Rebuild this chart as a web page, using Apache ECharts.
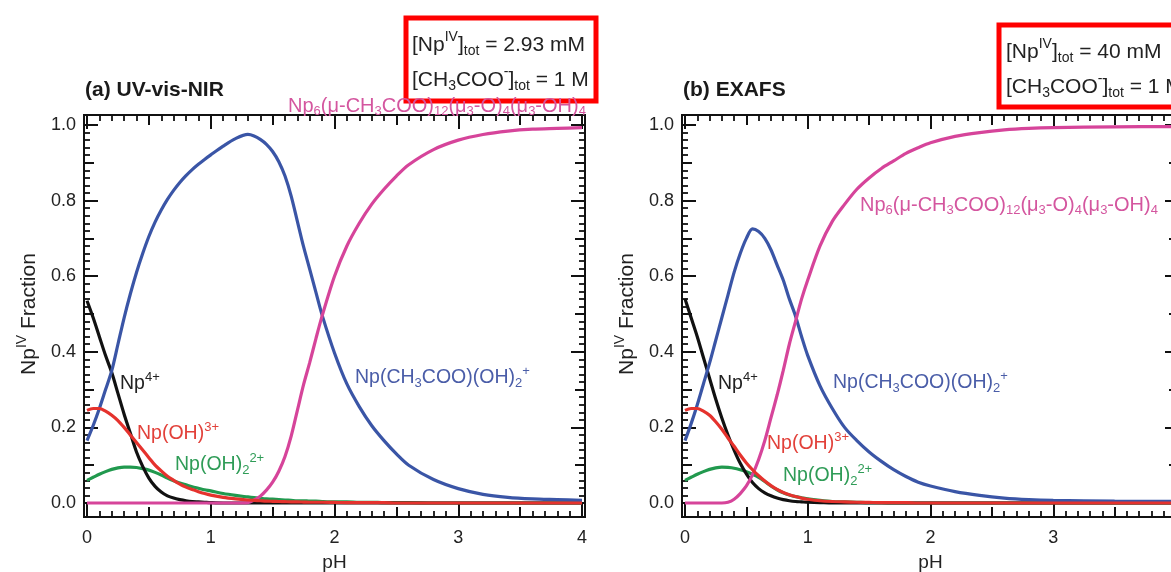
<!DOCTYPE html>
<html><head><meta charset="utf-8">
<script src="https://cdn.jsdelivr.net/npm/echarts@6/dist/echarts.min.js"></script>
<style>html,body{margin:0;padding:0;background:#fff}#c{width:1171px;height:572px}</style>
</head><body><div id="c"></div>
<script>
// ---------- data: panel (a) UV-vis-NIR ----------
const pHA = [0,0.05,0.1,0.15,0.2,0.25,0.3,0.35,0.4,0.45,0.5,0.55,0.6,0.65,0.7,0.75,0.8,0.85,0.9,0.95,1.0,1.1,1.2,1.3,1.35,1.4,1.45,1.5,1.55,1.6,1.65,1.7,1.75,1.8,1.85,1.9,2.0,2.1,2.2,2.3,2.4,2.5,2.6,2.8,3.0,3.2,3.4,3.6,3.8,4.0];
const np4A = [0.535,0.49,0.44,0.39,0.345,0.29,0.235,0.185,0.135,0.097,0.066,0.044,0.029,0.019,0.013,0.009,0.006,0.004,0.003,0.002,0.001,0,0,0,0,0,0,0,0,0,0,0,0,0,0,0,0,0,0,0,0,0,0,0,0,0,0,0,0,0];
const npOHA = [0.245,0.25,0.25,0.243,0.232,0.218,0.2,0.18,0.16,0.14,0.12,0.1,0.085,0.071,0.06,0.05,0.042,0.036,0.03,0.025,0.021,0.015,0.011,0.008,0.007,0.006,0.005,0.0045,0.004,0.0035,0.003,0.003,0.0025,0.002,0.002,0.002,0.0015,0.001,0.001,0.001,0.001,0,0,0,0,0,0,0,0,0];
const npOH2A = [0.06,0.068,0.076,0.083,0.089,0.093,0.095,0.095,0.094,0.091,0.087,0.081,0.074,0.066,0.059,0.053,0.048,0.043,0.039,0.035,0.032,0.025,0.02,0.016,0.014,0.012,0.011,0.01,0.009,0.008,0.007,0.006,0.006,0.005,0.005,0.004,0.003,0.003,0.002,0.002,0.001,0.001,0.001,0,0,0,0,0,0,0];
const npAcA = [0.165,0.205,0.25,0.3,0.35,0.42,0.49,0.553,0.61,0.66,0.705,0.743,0.775,0.803,0.827,0.848,0.866,0.882,0.896,0.909,0.921,0.944,0.964,0.975,0.971,0.962,0.949,0.93,0.903,0.865,0.812,0.745,0.678,0.618,0.557,0.497,0.397,0.315,0.255,0.205,0.165,0.13,0.1,0.062,0.038,0.023,0.015,0.011,0.009,0.007];
const np6A = [0,0,0,0,0,0,0,0,0,0,0,0,0,0,0,0,0,0,0,0,0,0,0,0.001,0.008,0.018,0.034,0.055,0.084,0.123,0.177,0.245,0.313,0.372,0.435,0.495,0.6,0.68,0.74,0.79,0.83,0.865,0.895,0.935,0.96,0.975,0.984,0.989,0.991,0.993];

// ---------- data: panel (b) EXAFS ----------
const pHB = [0,0.05,0.1,0.15,0.2,0.25,0.3,0.35,0.4,0.45,0.5,0.55,0.6,0.65,0.7,0.75,0.8,0.85,0.9,0.95,1.0,1.1,1.2,1.3,1.4,1.5,1.6,1.7,1.8,1.9,2.0,2.2,2.4,2.6,2.8,3.0,3.5,4.0];
const np4B = [0.54,0.49,0.44,0.385,0.33,0.275,0.225,0.18,0.14,0.105,0.077,0.054,0.038,0.027,0.019,0.013,0.009,0.006,0.004,0.003,0.002,0.001,0,0,0,0,0,0,0,0,0,0,0,0,0,0,0,0];
const npOHB = [0.245,0.25,0.25,0.243,0.232,0.215,0.195,0.172,0.15,0.127,0.106,0.088,0.072,0.058,0.046,0.036,0.028,0.022,0.017,0.013,0.01,0.006,0.004,0.003,0.002,0.0015,0.001,0.001,0.001,0,0,0,0,0,0,0,0,0];
const npOH2B = [0.06,0.068,0.076,0.083,0.089,0.093,0.095,0.094,0.092,0.088,0.083,0.076,0.068,0.057,0.045,0.035,0.027,0.021,0.017,0.014,0.011,0.007,0.004,0.003,0.002,0.001,0.001,0,0,0,0,0,0,0,0,0,0,0];
const npAcB = [0.165,0.21,0.26,0.315,0.37,0.43,0.49,0.55,0.61,0.66,0.7,0.725,0.718,0.7,0.67,0.63,0.59,0.54,0.495,0.44,0.39,0.31,0.25,0.2,0.165,0.135,0.11,0.088,0.07,0.055,0.045,0.03,0.02,0.013,0.009,0.007,0.005,0.004];
const np6B = [0,0,0,0,0,0,0,0.002,0.01,0.025,0.045,0.075,0.115,0.165,0.225,0.285,0.35,0.42,0.48,0.54,0.59,0.68,0.745,0.79,0.83,0.86,0.885,0.905,0.925,0.94,0.953,0.97,0.98,0.987,0.991,0.993,0.995,0.996];

const xTicks = [0,1,2,3,4];
const yTicks = [0,0.2,0.4,0.6,0.8,1.0];

const FF = '"Liberation Sans", Arial, Helvetica, sans-serif';
const C = {np4:'#111111', npOH:'#e5322d', npOH2:'#21994e', npAc:'#3a55a6', np6:'#d6449a'};
const T = {np4:'#222222', npOH:'#e2413a', npOH2:'#2f9c57', npAc:'#4a5da8', np6:'#d4569f'};

function rich(color, size) {
  const s = Math.round(size * 0.66);
  return {
    n: {fontSize: size, color: color, fontFamily: FF},
    sub: {fontSize: s, color: color, fontFamily: FF, padding: [Math.round(size*0.55),0,0,0]},
    sup: {fontSize: s, color: color, fontFamily: FF, padding: [0,0,Math.round(size*0.7),0]}
  };
}

// panel geometry
const P = [
  {frame:{left:84, top:115, width:501, height:402}, data:{left:87, top:125, width:495, height:378}},
  {frame:{left:682, top:115, width:497, height:402}, data:{left:685, top:125, width:491, height:378}}
];

const grids = [], xAxes = [], yAxes = [];
const tick = (len) => ({show:true, inside:true, length:len, lineStyle:{color:'#111', width:2}});
const minor = (n) => ({show:true, splitNumber:n, length:6, lineStyle:{color:'#111', width:1.8}});

P.forEach((p, k) => {
  const gf = grids.length;
  grids.push(Object.assign({show:true, borderColor:'#111', borderWidth:2, backgroundColor:'transparent', outerBoundsMode:'none', containLabel:false}, p.frame));
  const gd = grids.length;
  grids.push(Object.assign({show:false, outerBoundsMode:'none', containLabel:false}, p.data));
  xAxes.push({gridIndex:gf, type:'value', show:false, min:0, max:1});
  yAxes.push({gridIndex:gf, type:'value', show:false, min:0, max:1});
  const bx = {gridIndex:gd, type:'value', min:xTicks[0], max:xTicks[xTicks.length-1], axisLine:{show:false, onZero:false}, splitLine:{show:false}, minorSplitLine:{show:false}};
  const by = {gridIndex:gd, type:'value', min:yTicks[0], max:yTicks[yTicks.length-1], axisLine:{show:false, onZero:false}, splitLine:{show:false}, minorSplitLine:{show:false}};
  xAxes.push(Object.assign({}, bx, {position:'bottom', offset:14, interval:1, axisTick:tick(14), minorTick:minor(10),
    axisLabel:{show:true, margin:12, fontSize:18, color:'#222', fontFamily:FF},
    name:'pH', nameLocation:'middle', nameGap:36, nameTextStyle:{fontSize:19, color:'#222', fontFamily:FF}}));
  xAxes.push(Object.assign({}, bx, {position:'bottom', offset:14, interval:0.5, axisTick:tick(10), axisLabel:{show:false}}));
  xAxes.push(Object.assign({}, bx, {position:'top', offset:10, interval:1, axisTick:tick(14), minorTick:minor(10), axisLabel:{show:false}}));
  xAxes.push(Object.assign({}, bx, {position:'top', offset:10, interval:0.5, axisTick:tick(10), axisLabel:{show:false}}));
  yAxes.push(Object.assign({}, by, {position:'left', offset:3, interval:0.2, axisTick:tick(14), minorTick:minor(10),
    axisLabel:{show:true, margin:8, fontSize:18, color:'#222', fontFamily:FF, formatter:(v)=>v.toFixed(1)},
    name:'{n|Np}{sup|IV}{n| Fraction}', nameLocation:'middle', nameGap:40, nameRotate:90,
    nameTextStyle:{rich:rich('#222', 21)}}));
  yAxes.push(Object.assign({}, by, {position:'left', offset:3, interval:0.1, axisTick:tick(10), axisLabel:{show:false}}));
  yAxes.push(Object.assign({}, by, {position:'right', offset:3, interval:0.2, axisTick:tick(14), minorTick:minor(10), axisLabel:{show:false}}));
  yAxes.push(Object.assign({}, by, {position:'right', offset:3, interval:0.1, axisTick:tick(10), axisLabel:{show:false}}));
});

function mk(name, xs, ys, color, axisIdx, z) {
  return {name:name, type:'line', xAxisIndex:axisIdx, yAxisIndex:axisIdx, data:xs.map((x,i)=>[x, ys[i]]),
    showSymbol:false, smooth:0.3, clip:false, z:z,
    lineStyle:{color:color, width:3.2}, itemStyle:{color:color}, emphasis:{disabled:true}};
}
const series = [
  mk('Np4+ (a)', pHA, np4A, C.np4, 1, 3),
  mk('Np(OH)2 2+ (a)', pHA, npOH2A, C.npOH2, 1, 2),
  mk('Np(CH3COO)(OH)2+ (a)', pHA, npAcA, C.npAc, 1, 4),
  mk('Np6 (a)', pHA, np6A, C.np6, 1, 5),
  mk('Np(OH)3+ (a)', pHA, npOHA, C.npOH, 1, 6),
  mk('Np4+ (b)', pHB, np4B, C.np4, 6, 3),
  mk('Np(OH)2 2+ (b)', pHB, npOH2B, C.npOH2, 6, 2),
  mk('Np(CH3COO)(OH)2+ (b)', pHB, npAcB, C.npAc, 6, 4),
  mk('Np6 (b)', pHB, np6B, C.np6, 6, 5),
  mk('Np(OH)3+ (b)', pHB, npOHB, C.npOH, 6, 6)
];

const L = {
  np6: '{n|Np}{sub|6}{n|(μ-CH}{sub|3}{n|COO)}{sub|12}{n|(μ}{sub|3}{n|-O)}{sub|4}{n|(μ}{sub|3}{n|-OH)}{sub|4}',
  npAc: '{n|Np(CH}{sub|3}{n|COO)(OH)}{sub|2}{sup|+}',
  np4: '{n|Np}{sup|4+}',
  npOH: '{n|Np(OH)}{sup|3+}',
  npOH2: '{n|Np(OH)}{sub|2}{sup|2+}',
  box1a: '{n|[Np}{sup|IV}{n|]}{sub|tot}{n| = 2.93 mM}',
  box1b: '{n|[CH}{sub|3}{n|COO}{sup|-}{n|]}{sub|tot}{n| = 1 M}',
  box2a: '{n|[Np}{sup|IV}{n|]}{sub|tot}{n| = 40 mM}',
  box2b: '{n|[CH}{sub|3}{n|COO}{sup|-}{n|]}{sub|tot}{n| = 1 M}'
};
function txt(x, y, text, color, size) {
  return {type:'text', x:x, y:y, z:100, style:{text:text, rich:rich(color, size), fill:color,
    font: size + 'px ' + FF, verticalAlign:'middle', align:'left'}};
}
function title(x, y, text) {
  return {type:'text', x:x, y:y, z:100, style:{text:text, fill:'#1a1a1a', font:'bold 21px ' + FF, verticalAlign:'middle', align:'left'}};
}
const graphic = [
  title(85, 90, '(a) UV-vis-NIR'),
  title(683, 90, '(b) EXAFS'),
  {type:'rect', z:100, shape:{x:406, y:18, width:190, height:83}, style:{fill:'none', stroke:'#ff0000', lineWidth:5}},
  {type:'rect', z:100, shape:{x:999, y:25, width:200, height:82}, style:{fill:'none', stroke:'#ff0000', lineWidth:5}},
  txt(412, 45, L.box1a, '#222', 21),
  txt(412, 80, L.box1b, '#222', 21),
  txt(1006, 52, L.box2a, '#222', 21),
  txt(1006, 87, L.box2b, '#222', 21),
  txt(288, 106, L.np6, T.np6, 20),
  txt(355, 378, L.npAc, T.npAc, 19.5),
  txt(120, 384, L.np4, T.np4, 19.5),
  txt(137, 434, L.npOH, T.npOH, 19.5),
  txt(175, 465, L.npOH2, T.npOH2, 19.5),
  txt(860, 205, L.np6, T.np6, 20),
  txt(833, 383, L.npAc, T.npAc, 19.5),
  txt(718, 384, L.np4, T.np4, 19.5),
  txt(767, 444, L.npOH, T.npOH, 19.5),
  txt(783, 476, L.npOH2, T.npOH2, 19.5)
];

const chart = echarts.init(document.getElementById('c'), null, {renderer:'canvas'});
chart.setOption({
  animation:false,
  backgroundColor:'#ffffff',
  grid:grids, xAxis:xAxes, yAxis:yAxes, series:series, graphic:graphic
});
</script></body></html>
